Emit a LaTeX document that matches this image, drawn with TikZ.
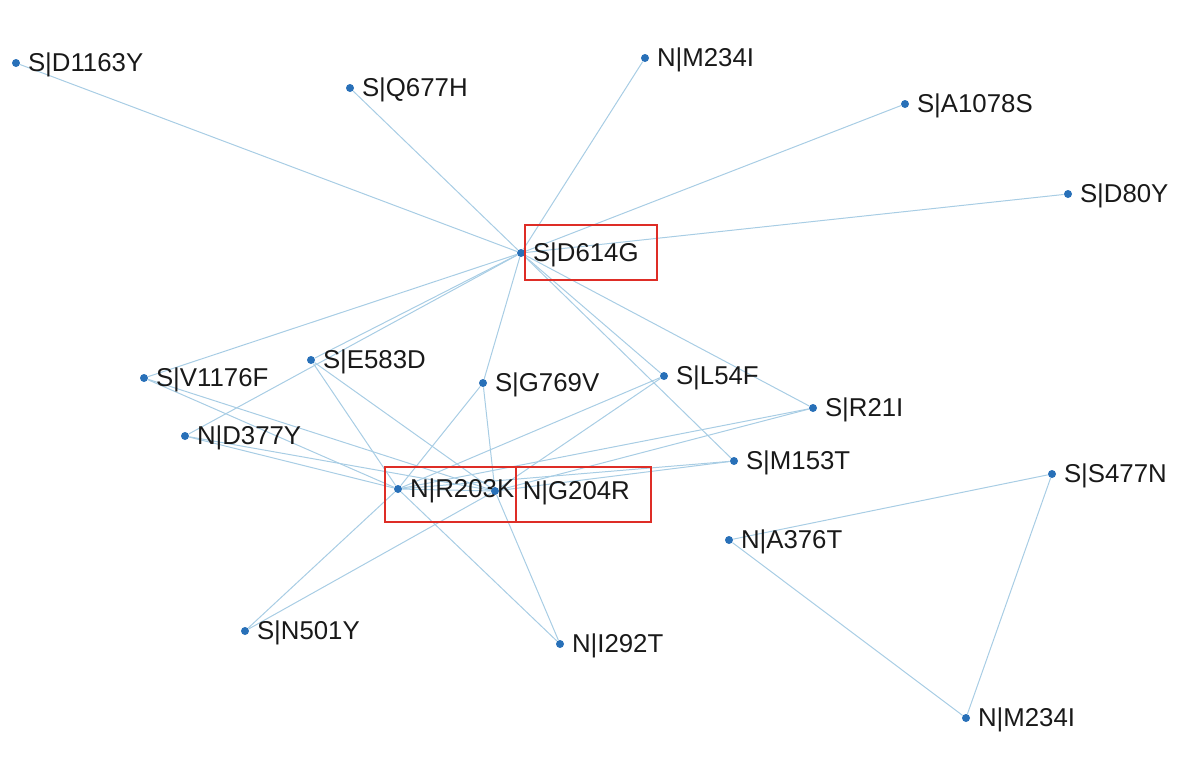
\documentclass[tikz,border=0pt]{standalone}
\usepackage{fontspec}
\setmainfont{Liberation Sans}
\usetikzlibrary{backgrounds}
\definecolor{edgeblue}{RGB}{168,205,228}
\definecolor{dotblue}{RGB}{40,112,184}
\definecolor{boxred}{RGB}{222,45,38}
\definecolor{labelgrey}{RGB}{25,25,25}
\begin{document}
\begin{tikzpicture}[x=0.5pt,y=-0.5pt,
        vertex/.style={circle,fill=dotblue,inner sep=0pt,minimum size=4pt},
        lbl/.style={font=\fontsize{12.9}{15}\selectfont,text=labelgrey,inner sep=0pt,yshift=-1.1pt},
        every label/.style={lbl},
        label distance=3.6pt,
        edge/.style={draw=edgeblue,line width=0.5pt},
        hilite/.style={draw=boxred,line width=1.3pt}]
            \useasboundingbox (0,0) rectangle (1200,762);
            % spike mutations
            \node[vertex,label=right:S|D1163Y] (D1163Y) at (16,63) {};
            \node[vertex,label=right:S|Q677H] (Q677H) at (350,88) {};
            \node[vertex,label=right:S|A1078S] (A1078S) at (905,104) {};
            \node[vertex,label=right:S|D80Y] (D80Y) at (1068,194) {};
            \node[vertex,label=right:S|D614G] (D614G) at (521,253) {};
            \node[vertex,label=right:S|V1176F] (V1176F) at (144,378) {};
            \node[vertex,label=right:S|E583D] (E583D) at (311,360) {};
            \node[vertex,label=right:S|G769V] (G769V) at (483,383) {};
            \node[vertex,label=right:S|L54F] (L54F) at (664,376) {};
            \node[vertex,label=right:S|R21I] (R21I) at (813,408) {};
            \node[vertex,label=right:S|M153T] (M153T) at (734,461) {};
            \node[vertex,label=right:S|S477N] (S477N) at (1052,474) {};
            \node[vertex,label=right:S|N501Y] (N501Y) at (245,631) {};
            % nucleocapsid mutations
            \node[vertex,label=right:N|M234I] (M234Ia) at (645,58) {};
            \node[vertex,label=right:N|D377Y] (D377Y) at (185,436) {};
            \node[vertex,label=right:N|R203K] (R203K) at (398,489) {};
            \node[vertex,label={[label distance=11.5pt]right:N|G204R}] (G204R) at (495,491) {};
            \node[vertex,label=right:N|A376T] (A376T) at (729,540) {};
            \node[vertex,label=right:N|I292T] (I292T) at (560,644) {};
            \node[vertex,label=right:N|M234I] (M234Ib) at (966,718) {};

            \begin{pgfonlayer}{background}
            \draw[edge] (D614G) to (D1163Y);
            \draw[edge] (D614G) to (Q677H);
            \draw[edge] (D614G) to (M234Ia);
            \draw[edge] (D614G) to (A1078S);
            \draw[edge] (D614G) to (D80Y);
            \draw[edge] (D614G) to (V1176F);
            \draw[edge] (D614G) to (E583D);
            \draw[edge] (D614G) to (D377Y);
            \draw[edge] (D614G) to (G769V);
            \draw[edge] (D614G) to (L54F);
            \draw[edge] (D614G) to (M153T);
            \draw[edge] (D614G) to (R21I);

            \draw[edge] (R203K) to (G204R);
            \draw[edge] (R203K) to (V1176F);
            \draw[edge] (R203K) to (D377Y);
            \draw[edge] (R203K) to (E583D);
            \draw[edge] (R203K) to (G769V);
            \draw[edge] (R203K) to (L54F);
            \draw[edge] (R203K) to (R21I);
            \draw[edge] (R203K) to (M153T);
            \draw[edge] (R203K) to (N501Y);
            \draw[edge] (R203K) to (I292T);

            \draw[edge] (G204R) to (V1176F);
            \draw[edge] (G204R) to (D377Y);
            \draw[edge] (G204R) to (E583D);
            \draw[edge] (G204R) to (G769V);
            \draw[edge] (G204R) to (L54F);
            \draw[edge] (G204R) to (R21I);
            \draw[edge] (G204R) to (M153T);
            \draw[edge] (G204R) to (N501Y);
            \draw[edge] (G204R) to (I292T);

            \draw[edge] (A376T) to (S477N);
            \draw[edge] (A376T) to (M234Ib);
            \draw[edge] (S477N) to (M234Ib);
            \end{pgfonlayer}

            % highlighted labels
            \draw[hilite] (525,225) rectangle (657,280);
            \draw[hilite] (385,467) rectangle (516,522);
            \draw[hilite] (516,467) rectangle (651,522);
        \end{tikzpicture}
\end{document}
